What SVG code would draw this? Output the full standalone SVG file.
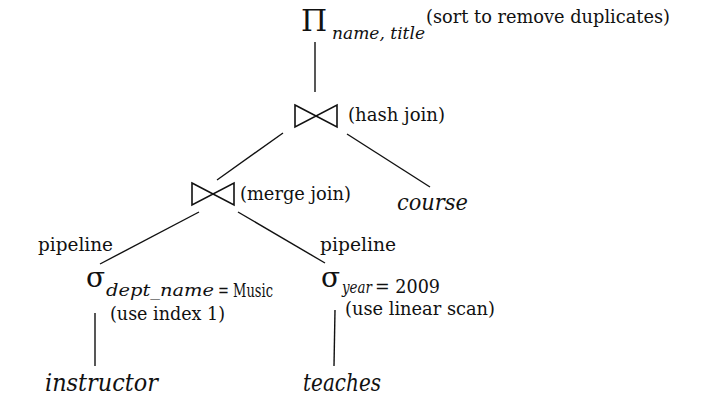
<svg xmlns="http://www.w3.org/2000/svg" width="707" height="409" viewBox="0 0 707 409">
<style>
text{font-family:'DejaVu Serif','Liberation Serif',serif;fill:#111}
.l{font-size:18px}
.it{font-style:italic}
.bt{fill:none;stroke:#111;stroke-width:1.6}
.c line{stroke:#111;stroke-width:1.4}
</style>
<defs>
<path id="bowtie" class="bt" d="M-21,-11 L21,11 L21,-11 L-21,11 Z"/>
</defs>
<g class="c" id="connectors">
<line x1="315" y1="42" x2="315" y2="92"/>
<line x1="283" y1="133" x2="217" y2="180"/>
<line x1="347" y1="134" x2="430" y2="187"/>
<line x1="199" y1="212" x2="100" y2="264"/>
<line x1="238" y1="212" x2="325" y2="263"/>
<line x1="95" y1="313" x2="95" y2="366"/>
<line x1="335" y1="310" x2="334" y2="366"/>
</g>
<g id="project">
<text x="301" y="31" font-size="30">Π</text>
<text class="it" x="332" y="39" font-size="16" textLength="93" lengthAdjust="spacingAndGlyphs">name, title</text>
<text class="l" x="426" y="23" textLength="244" lengthAdjust="spacingAndGlyphs">(sort to remove duplicates)</text>
</g>
<g id="hashjoin">
<use href="#bowtie" x="316" y="116"/>
<text class="l" x="348" y="121" textLength="97" lengthAdjust="spacingAndGlyphs">(hash join)</text>
</g>
<g id="mergejoin">
<use href="#bowtie" x="213" y="194"/>
<text class="l" x="240" y="200" textLength="111" lengthAdjust="spacingAndGlyphs">(merge join)</text>
</g>
<g id="course">
<text class="it" x="397" y="210" font-size="23" textLength="71" lengthAdjust="spacingAndGlyphs">course</text>
</g>
<g id="pipeline-left">
<text class="l" x="38" y="251" textLength="75" lengthAdjust="spacingAndGlyphs">pipeline</text>
</g>
<g id="pipeline-right">
<text class="l" x="320" y="251" textLength="76" lengthAdjust="spacingAndGlyphs">pipeline</text>
</g>
<g id="select-dept">
<text x="86" y="287" font-size="28">σ</text>
<text class="it" x="106" y="296" font-size="16" textLength="108" lengthAdjust="spacingAndGlyphs">dept_name</text>
<text x="218" y="297" font-size="18" textLength="55" lengthAdjust="spacingAndGlyphs">= Music</text>
<text class="l" x="110" y="320" textLength="115" lengthAdjust="spacingAndGlyphs">(use index 1)</text>
</g>
<g id="select-year">
<text x="321" y="287" font-size="28">σ</text>
<text class="it" x="342" y="293" font-size="16" textLength="30" lengthAdjust="spacingAndGlyphs">year</text>
<text x="375" y="293" font-size="18" textLength="65" lengthAdjust="spacingAndGlyphs">= 2009</text>
<text class="l" x="345" y="315" textLength="150" lengthAdjust="spacingAndGlyphs">(use linear scan)</text>
</g>
<g id="instructor">
<text class="it" x="45" y="391" font-size="25" textLength="113" lengthAdjust="spacingAndGlyphs">instructor</text>
</g>
<g id="teaches">
<text class="it" x="303" y="391" font-size="25" textLength="78" lengthAdjust="spacingAndGlyphs">teaches</text>
</g>
</svg>
